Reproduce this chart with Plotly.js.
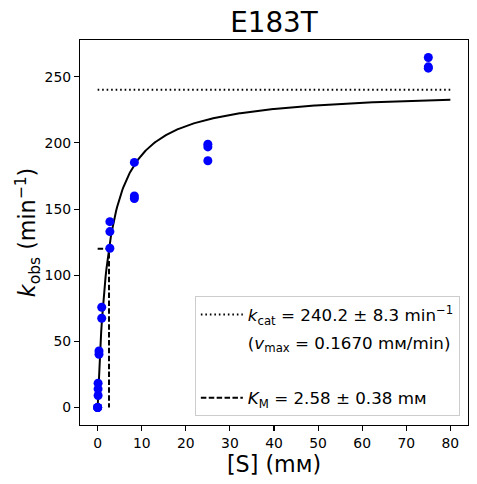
<!DOCTYPE html>
<html>
<head>
<meta charset="utf-8">
<script src="https://cdn.plot.ly/plotly-3.0.1.min.js"></script>
<style>html,body{margin:0;padding:0;background:#fff;}#plot{width:477px;height:484px;}</style>
</head>
<body>
<div id="plot"></div>
<script>
// Measured data (substrate concentration in mM, k_obs in min^-1)
var substrate = [0, 0, 0, 0.103, 0.103, 0.103, 0.309, 0.309, 0.926, 0.926,
                 2.78, 2.78, 2.78, 8.33, 8.33, 8.33, 25, 25, 25, 75, 75, 75];
var kobs = [0, 0, 0, 9.1, 14.1, 18.4, 40.3, 42.8, 67.5, 75.8,
            120.4, 133.0, 140.5, 185.3, 159.9, 158.0, 199.0, 197.0, 186.5, 264.6, 257.5, 256.5];

// Fitted Michaelis-Menten parameters (from the legend)
var kcat = 240.2;
var KM = 2.58;
var fitRange = [0, 80];

var xTicks = [0, 10, 20, 30, 40, 50, 60, 70, 80];
var yTicks = [0, 50, 100, 150, 200, 250];

var labelKcat = '<i>k</i><sub>cat</sub> = 240.2 ± 8.3 min<sup>−1</sup>';
var labelVmax = '(<i>v</i><sub>max</sub> = 0.1670 mᴍ/min)';
var labelKM = '<i>K</i><sub>M</sub> = 2.58 ± 0.38 mᴍ';

// fit curve from the model parameters
var fitX = [], fitY = [];
var n = 400;
for (var i = 0; i <= n; i++) {
  var s = fitRange[0] + (fitRange[1] - fitRange[0]) * i / n;
  fitX.push(s);
  fitY.push(kcat * s / (KM + s));
}

var font = 'DejaVu Sans, sans-serif';

var traces = [
  {x: fitX, y: fitY, mode: 'lines', line: {color: 'black', width: 2}, showlegend: false, hoverinfo: 'skip'},
  {x: fitRange, y: [kcat, kcat], mode: 'lines', name: labelKcat, legendgroup: 'a',
   line: {color: 'black', width: 2, dash: '1.6px,2.9px'}},
  {x: [null], y: [null], mode: 'lines', name: labelVmax, legendgroup: 'b',
   line: {color: 'rgba(0,0,0,0)', width: 2}},
  {x: [null], y: [null], mode: 'lines', name: ' ', legendgroup: 'c',
   line: {color: 'rgba(0,0,0,0)', width: 2}},
  {x: [0, KM, KM], y: [kcat / 2, kcat / 2, 0], mode: 'lines', name: labelKM, legendgroup: 'd',
   line: {color: 'black', width: 2, dash: '5.5px,2.4px'}},
  {x: substrate, y: kobs, mode: 'markers', marker: {color: 'blue', size: 9}, showlegend: false}
];

var axisCommon = {
  showgrid: false, zeroline: false, showline: true, linecolor: 'black', linewidth: 1.1,
  mirror: true, ticks: 'outside', ticklen: 5, tickwidth: 1.1, tickcolor: 'black',
  tickfont: {family: font, size: 13.9, color: 'black'}
};

var layout = {
  width: 477, height: 484,
  margin: {l: 80, r: 9, t: 40, b: 59},
  paper_bgcolor: 'white', plot_bgcolor: 'white',
  font: {family: font, color: 'black'},
  title: {text: 'E183T', font: {family: font, size: 27.8, color: 'black'},
          x: 0.5, xref: 'paper', y: 1 - 22 / 484, yref: 'container', yanchor: 'middle'},
  xaxis: Object.assign({}, axisCommon, {
    range: [-4, 84], tickvals: xTicks, ticktext: xTicks.map(String),
    title: {text: '[S] (mᴍ)', font: {family: font, size: 22.2, color: 'black'}, standoff: 5}
  }),
  yaxis: Object.assign({}, axisCommon, {
    range: [-13.2, 277.8], tickvals: yTicks, ticktext: yTicks.map(String),
    title: {text: '<i>k</i><sub>obs</sub> (min<sup>−1</sup>)', font: {family: font, size: 22.2, color: 'black'}, standoff: 2}
  }),
  legend: {
    x: 0.979, y: 0.023, xanchor: 'right', yanchor: 'bottom',
    bgcolor: 'rgba(255,255,255,0.8)', bordercolor: '#cccccc', borderwidth: 1,
    font: {family: font, size: 16.7, color: 'black'},
    tracegroupgap: 3, itemwidth: 42
  },
  showlegend: true
};

Plotly.newPlot('plot', traces, layout, {staticPlot: true, displayModeBar: false});
</script>
</body>
</html>
